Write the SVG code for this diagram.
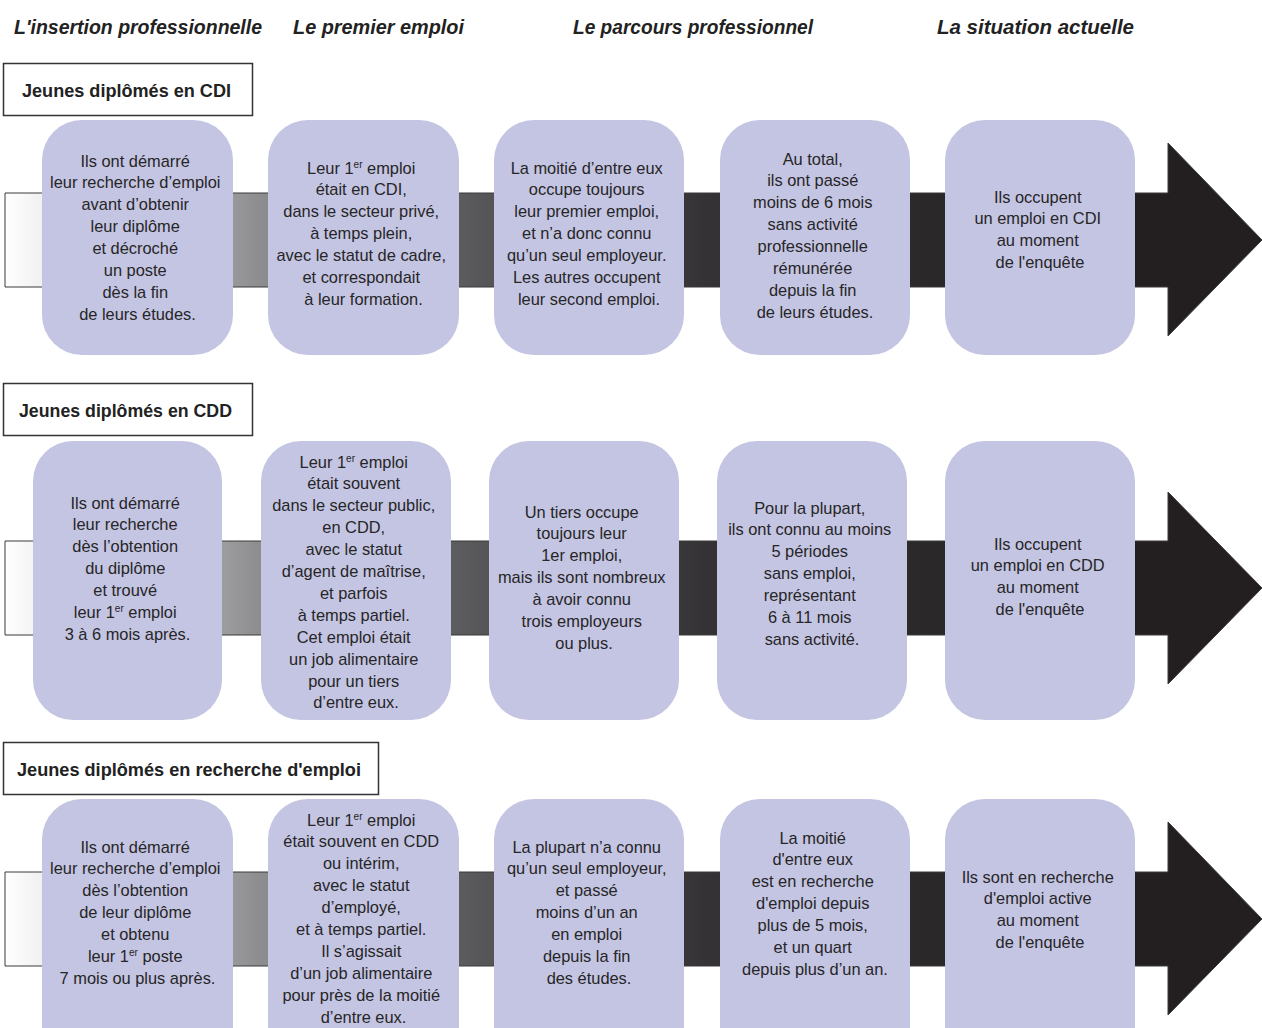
<svg xmlns="http://www.w3.org/2000/svg" width="1262" height="1028" viewBox="0 0 1262 1028">
<defs>
<linearGradient id="band" gradientUnits="userSpaceOnUse" x1="5" y1="0" x2="1262" y2="0">
<stop offset="0" stop-color="#ffffff"/>
<stop offset="0.03" stop-color="#f0f0f0"/>
<stop offset="0.2" stop-color="#8e8e90"/>
<stop offset="0.38" stop-color="#565658"/>
<stop offset="0.56" stop-color="#343234"/>
<stop offset="0.74" stop-color="#2a2828"/>
<stop offset="0.9" stop-color="#231f20"/>
</linearGradient>
<style>
.arrow{fill:url(#band);stroke:#3a3a3a;stroke-width:1}
.node{fill:#c4c4e3}
.t{font-family:"Liberation Sans",Arial,sans-serif;font-size:16.4px;fill:#262626;text-anchor:middle}
.sup{font-size:10px}
.col{font-family:"Liberation Sans",Arial,sans-serif;font-size:20px;font-weight:bold;font-style:italic;fill:#222}
.lblbox{fill:#fff;stroke:#333;stroke-width:1.5}
.lbl{font-family:"Liberation Sans",Arial,sans-serif;font-size:18px;font-weight:bold;fill:#222}
</style>
</defs>
<rect width="1262" height="1028" fill="#fff"/>

<g id="column-headers">
<text class="col" x="14" y="34" textLength="248" lengthAdjust="spacingAndGlyphs">L'insertion professionnelle</text>
<text class="col" x="293" y="34" textLength="171" lengthAdjust="spacingAndGlyphs">Le premier emploi</text>
<text class="col" x="573" y="34" textLength="240" lengthAdjust="spacingAndGlyphs">Le parcours professionnel</text>
<text class="col" x="937" y="34" textLength="197" lengthAdjust="spacingAndGlyphs">La situation actuelle</text>
</g>

<g id="connectors">
<path class="arrow" d="M5,193 H1168 V143 L1262,240 L1168,336 V287 H5 Z"/>
<path class="arrow" d="M5,541 H1168 V492 L1262,588 L1168,684 V635 H5 Z"/>
<path class="arrow" d="M5,872 H1168 V822 L1262,919 L1168,1015 V966 H5 Z"/>
</g>

<g id="label-cdi">
<rect class="lblbox" x="3.5" y="63.5" width="249" height="52"/>
<text class="lbl" x="22" y="96.5" textLength="209" lengthAdjust="spacingAndGlyphs">Jeunes diplômés en CDI</text>
</g>
<g id="label-cdd">
<rect class="lblbox" x="3.5" y="383.5" width="249" height="52"/>
<text class="lbl" x="19" y="416.5" textLength="213" lengthAdjust="spacingAndGlyphs">Jeunes diplômés en CDD</text>
</g>
<g id="label-recherche">
<rect class="lblbox" x="3.5" y="742.5" width="375" height="52"/>
<text class="lbl" x="17" y="775.5" textLength="344" lengthAdjust="spacingAndGlyphs">Jeunes diplômés en recherche d'emploi</text>
</g>

<!-- Row 1 -->
<g id="r1-insertion">
<rect class="node" x="42" y="120" width="191" height="235" rx="40"/>
<text class="t" y="166.5">
<tspan x="137.5">Ils ont démarré</tspan>
<tspan x="137.5" dy="21.9">leur recherche d’emploi</tspan>
<tspan x="137.5" dy="21.9">avant d’obtenir</tspan>
<tspan x="137.5" dy="21.9">leur diplôme</tspan>
<tspan x="137.5" dy="21.9">et décroché</tspan>
<tspan x="137.5" dy="21.9">un poste</tspan>
<tspan x="137.5" dy="21.9">dès la fin</tspan>
<tspan x="137.5" dy="21.9">de leurs études.</tspan>
</text>
</g>
<g id="r1-premier">
<rect class="node" x="268" y="120" width="191" height="235" rx="40"/>
<text class="t" y="173.5">
<tspan x="363.5">Leur 1<tspan class="sup" dy="-6">er</tspan><tspan dy="6"> emploi</tspan></tspan>
<tspan x="363.5" dy="21.9">était en CDI,</tspan>
<tspan x="363.5" dy="21.9">dans le secteur privé,</tspan>
<tspan x="363.5" dy="21.9">à temps plein,</tspan>
<tspan x="363.5" dy="21.9">avec le statut de cadre,</tspan>
<tspan x="363.5" dy="21.9">et correspondait</tspan>
<tspan x="363.5" dy="21.9">à leur formation.</tspan>
</text>
</g>
<g id="r1-parcours">
<rect class="node" x="494" y="120" width="190" height="235" rx="40"/>
<text class="t" y="173.5">
<tspan x="589">La moitié d’entre eux</tspan>
<tspan x="589" dy="21.9">occupe toujours</tspan>
<tspan x="589" dy="21.9">leur premier emploi,</tspan>
<tspan x="589" dy="21.9">et n’a donc connu</tspan>
<tspan x="589" dy="21.9">qu’un seul employeur.</tspan>
<tspan x="589" dy="21.9">Les autres occupent</tspan>
<tspan x="589" dy="21.9">leur second emploi.</tspan>
</text>
</g>
<g id="r1-duree">
<rect class="node" x="720" y="120" width="190" height="235" rx="40"/>
<text class="t" y="164.5">
<tspan x="815">Au total,</tspan>
<tspan x="815" dy="21.9">ils ont passé</tspan>
<tspan x="815" dy="21.9">moins de 6 mois</tspan>
<tspan x="815" dy="21.9">sans activité</tspan>
<tspan x="815" dy="21.9">professionnelle</tspan>
<tspan x="815" dy="21.9">rémunérée</tspan>
<tspan x="815" dy="21.9">depuis la fin</tspan>
<tspan x="815" dy="21.9">de leurs études.</tspan>
</text>
</g>
<g id="r1-situation">
<rect class="node" x="945" y="120" width="190" height="235" rx="40"/>
<text class="t" y="202.5">
<tspan x="1040">Ils occupent</tspan>
<tspan x="1040" dy="21.9">un emploi en CDI</tspan>
<tspan x="1040" dy="21.9">au moment</tspan>
<tspan x="1040" dy="21.9">de l'enquête</tspan>
</text>
</g>

<!-- Row 2 -->
<g id="r2-insertion">
<rect class="node" x="33" y="441" width="189" height="279" rx="40"/>
<text class="t" y="508.5">
<tspan x="127.5">Ils ont démarré</tspan>
<tspan x="127.5" dy="21.9">leur recherche</tspan>
<tspan x="127.5" dy="21.9">dès l’obtention</tspan>
<tspan x="127.5" dy="21.9">du diplôme</tspan>
<tspan x="127.5" dy="21.9">et trouvé</tspan>
<tspan x="127.5" dy="21.9">leur 1<tspan class="sup" dy="-6">er</tspan><tspan dy="6"> emploi</tspan></tspan>
<tspan x="127.5" dy="21.9">3 à 6 mois après.</tspan>
</text>
</g>
<g id="r2-premier">
<rect class="node" x="261" y="441" width="190" height="279" rx="40"/>
<text class="t" y="467.5">
<tspan x="356">Leur 1<tspan class="sup" dy="-6">er</tspan><tspan dy="6"> emploi</tspan></tspan>
<tspan x="356" dy="21.9">était souvent</tspan>
<tspan x="356" dy="21.9">dans le secteur public,</tspan>
<tspan x="356" dy="21.9">en CDD,</tspan>
<tspan x="356" dy="21.9">avec le statut</tspan>
<tspan x="356" dy="21.9">d’agent de maîtrise,</tspan>
<tspan x="356" dy="21.9">et parfois</tspan>
<tspan x="356" dy="21.9">à temps partiel.</tspan>
<tspan x="356" dy="21.9">Cet emploi était</tspan>
<tspan x="356" dy="21.9">un job alimentaire</tspan>
<tspan x="356" dy="21.9">pour un tiers</tspan>
<tspan x="356" dy="21.9">d’entre eux.</tspan>
</text>
</g>
<g id="r2-parcours">
<rect class="node" x="489" y="441" width="190" height="279" rx="40"/>
<text class="t" y="517.5">
<tspan x="584">Un tiers occupe</tspan>
<tspan x="584" dy="21.9">toujours leur</tspan>
<tspan x="584" dy="21.9">1er emploi,</tspan>
<tspan x="584" dy="21.9">mais ils sont nombreux</tspan>
<tspan x="584" dy="21.9">à avoir connu</tspan>
<tspan x="584" dy="21.9">trois employeurs</tspan>
<tspan x="584" dy="21.9">ou plus.</tspan>
</text>
</g>
<g id="r2-duree">
<rect class="node" x="717" y="441" width="190" height="279" rx="40"/>
<text class="t" y="513.5">
<tspan x="812">Pour la plupart,</tspan>
<tspan x="812" dy="21.9">ils ont connu au moins</tspan>
<tspan x="812" dy="21.9">5 périodes</tspan>
<tspan x="812" dy="21.9">sans emploi,</tspan>
<tspan x="812" dy="21.9">représentant</tspan>
<tspan x="812" dy="21.9">6 à 11 mois</tspan>
<tspan x="812" dy="21.9">sans activité.</tspan>
</text>
</g>
<g id="r2-situation">
<rect class="node" x="945" y="441" width="190" height="279" rx="40"/>
<text class="t" y="549.5">
<tspan x="1040">Ils occupent</tspan>
<tspan x="1040" dy="21.9">un emploi en CDD</tspan>
<tspan x="1040" dy="21.9">au moment</tspan>
<tspan x="1040" dy="21.9">de l'enquête</tspan>
</text>
</g>

<!-- Row 3 -->
<g id="r3-insertion">
<rect class="node" x="42" y="799" width="191" height="270" rx="40"/>
<text class="t" y="852.5">
<tspan x="137.5">Ils ont démarré</tspan>
<tspan x="137.5" dy="21.9">leur recherche d’emploi</tspan>
<tspan x="137.5" dy="21.9">dès l’obtention</tspan>
<tspan x="137.5" dy="21.9">de leur diplôme</tspan>
<tspan x="137.5" dy="21.9">et obtenu</tspan>
<tspan x="137.5" dy="21.9">leur 1<tspan class="sup" dy="-6">er</tspan><tspan dy="6"> poste</tspan></tspan>
<tspan x="137.5" dy="21.9">7 mois ou plus après.</tspan>
</text>
</g>
<g id="r3-premier">
<rect class="node" x="268" y="799" width="191" height="270" rx="40"/>
<text class="t" y="825.5">
<tspan x="363.5">Leur 1<tspan class="sup" dy="-6">er</tspan><tspan dy="6"> emploi</tspan></tspan>
<tspan x="363.5" dy="21.9">était souvent en CDD</tspan>
<tspan x="363.5" dy="21.9">ou intérim,</tspan>
<tspan x="363.5" dy="21.9">avec le statut</tspan>
<tspan x="363.5" dy="21.9">d’employé,</tspan>
<tspan x="363.5" dy="21.9">et à temps partiel.</tspan>
<tspan x="363.5" dy="21.9">Il s’agissait</tspan>
<tspan x="363.5" dy="21.9">d’un job alimentaire</tspan>
<tspan x="363.5" dy="21.9">pour près de la moitié</tspan>
<tspan x="363.5" dy="21.9">d’entre eux.</tspan>
</text>
</g>
<g id="r3-parcours">
<rect class="node" x="494" y="799" width="190" height="270" rx="40"/>
<text class="t" y="852.5">
<tspan x="589">La plupart n’a connu</tspan>
<tspan x="589" dy="21.9">qu’un seul employeur,</tspan>
<tspan x="589" dy="21.9">et passé</tspan>
<tspan x="589" dy="21.9">moins d’un an</tspan>
<tspan x="589" dy="21.9">en emploi</tspan>
<tspan x="589" dy="21.9">depuis la fin</tspan>
<tspan x="589" dy="21.9">des études.</tspan>
</text>
</g>
<g id="r3-duree">
<rect class="node" x="720" y="799" width="190" height="270" rx="40"/>
<text class="t" y="843.5">
<tspan x="815">La moitié</tspan>
<tspan x="815" dy="21.9">d'entre eux</tspan>
<tspan x="815" dy="21.9">est en recherche</tspan>
<tspan x="815" dy="21.9">d'emploi depuis</tspan>
<tspan x="815" dy="21.9">plus de 5 mois,</tspan>
<tspan x="815" dy="21.9">et un quart</tspan>
<tspan x="815" dy="21.9">depuis plus d’un an.</tspan>
</text>
</g>
<g id="r3-situation">
<rect class="node" x="945" y="799" width="190" height="270" rx="40"/>
<text class="t" y="882.5">
<tspan x="1040">Ils sont en recherche</tspan>
<tspan x="1040" dy="21.9">d'emploi active</tspan>
<tspan x="1040" dy="21.9">au moment</tspan>
<tspan x="1040" dy="21.9">de l'enquête</tspan>
</text>
</g>
</svg>
